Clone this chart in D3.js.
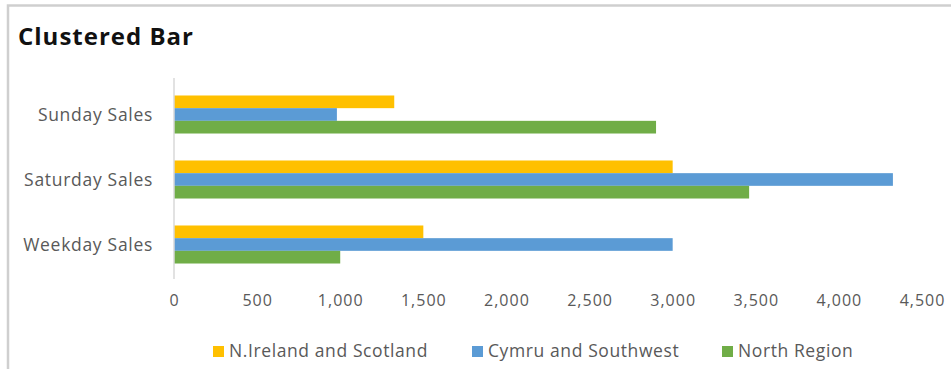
<!DOCTYPE html>
<html>
<head>
<meta charset="utf-8">
<script src="https://cdn.jsdelivr.net/npm/d3@7"></script>
<style>
  html, body { margin: 0; padding: 0; background: #fff; }
  svg { display: block; font-family: "Open Sans", Lato, sans-serif; }
</style>
</head>
<body>
<svg id="chart" width="951" height="369"></svg>
<script>
// Sales per day type, one value per region
const categories = ["Sunday Sales", "Saturday Sales", "Weekday Sales"];
const seriesNames = ["N.Ireland and Scotland", "Cymru and Southwest", "North Region"];
const nIrelandScotland = [1325, 3000, 1500];
const cymruSouthwest = [980, 4325, 3000];
const northRegion = [2900, 3460, 1000];
const xTicks = [0, 500, 1000, 1500, 2000, 2500, 3000, 3500, 4000, 4500];

const seriesValues = [nIrelandScotland, cymruSouthwest, northRegion];
const colors = ["#FFC000", "#5B9BD5", "#70AD47"];
const textColor = "#595959";
const font = "'Open Sans', Lato, sans-serif";

const svg = d3.select("#chart");

// Chart frame
svg.append("rect")
  .attr("x", 8).attr("y", 5.5)
  .attr("width", 960).attr("height", 380)
  .attr("fill", "#fff")
  .attr("stroke", "#cfcfcf")
  .attr("stroke-width", 2.5);

// Title
svg.append("text")
  .attr("x", 18).attr("y", 45)
  .attr("font-size", 24).attr("font-weight", 700)
  .attr("letter-spacing", 1)
  .attr("fill", "#111")
  .text("Clustered Bar");

const x = d3.scaleLinear().domain([0, 4500]).range([174, 922]);
const y = d3.scaleBand().domain(categories).range([82, 277])
  .paddingInner(0.415).paddingOuter(0.2075);
const ySub = d3.scaleBand().domain(d3.range(seriesNames.length)).range([0, y.bandwidth()]);

// Bars
const rows = categories.map((c, i) => ({
  category: c,
  values: seriesValues.map((s, k) => ({ k, v: s[i] }))
}));

const groups = svg.append("g").selectAll("g").data(rows).join("g")
  .attr("transform", d => `translate(0,${y(d.category)})`);

groups.selectAll("rect").data(d => d.values).join("rect")
  .attr("x", x(0))
  .attr("y", d => ySub(d.k))
  .attr("width", d => x(d.v) - x(0))
  .attr("height", ySub.bandwidth())
  .attr("fill", d => colors[d.k]);

// Vertical category axis
const yAxis = svg.append("g")
  .attr("transform", `translate(${x(0)},0)`)
  .call(d3.axisLeft(y).tickSize(0).tickPadding(21));
yAxis.select(".domain").attr("stroke", "#d9d9d9").attr("stroke-width", 1.5)
  .attr("d", `M0,${y.range()[0] - 4}V${y.range()[1] + 2}`);
yAxis.selectAll("text")
  .attr("font-size", 17.5).attr("fill", textColor)
  .attr("letter-spacing", 0.7)
  .attr("font-family", font)
  .attr("dy", "0.36em");

// Value axis (labels only)
const xAxis = svg.append("g")
  .attr("transform", `translate(0,${y.range()[1]})`)
  .call(d3.axisBottom(x).tickValues(xTicks).tickFormat(d3.format(",")).tickSize(0).tickPadding(18));
xAxis.select(".domain").remove();
xAxis.selectAll("text")
  .attr("font-size", 16).attr("fill", textColor)
  .attr("letter-spacing", 1)
  .attr("font-family", font);

// Legend
const legendX = [213, 472, 722];
const legend = svg.append("g").selectAll("g").data(seriesNames).join("g")
  .attr("transform", (d, i) => `translate(${legendX[i]},346)`);
legend.append("rect")
  .attr("width", 11).attr("height", 11)
  .attr("fill", (d, i) => colors[i]);
legend.append("text")
  .attr("x", 16).attr("y", 10.5)
  .attr("font-size", 17.5).attr("fill", textColor)
  .attr("letter-spacing", 0.6)
  .text(d => d);
</script>
</body>
</html>
